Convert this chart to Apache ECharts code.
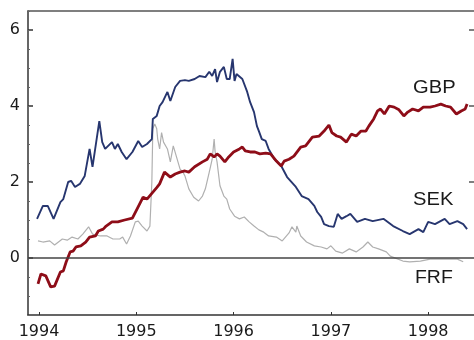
<!DOCTYPE html>
<html>
<head>
<meta charset="utf-8">
<style>
  html, body { margin: 0; padding: 0; background: #fff; }
  #chart { width: 474px; height: 340px; }
</style>
<script src="https://cdn.jsdelivr.net/npm/echarts@6/dist/echarts.min.js"></script>
</head>
<body>
<div id="chart"></div>
<script>
// Year ticks along the bottom and value ticks on the left
const yearTicks = [1994, 1995, 1996, 1997, 1998];
const valueTicks = [0, 2, 4, 6];
const rightTicks = [2, 4, 6];

// SEK
const sekYears = [1993.98, 1994.04, 1994.09, 1994.15, 1994.22, 1994.25, 1994.30, 1994.33, 1994.37, 1994.42,
  1994.47, 1994.52, 1994.55, 1994.62, 1994.65, 1994.68, 1994.75, 1994.78, 1994.81, 1994.85,
  1994.90, 1994.96, 1995.02, 1995.06, 1995.11, 1995.16, 1995.17, 1995.21, 1995.24, 1995.27,
  1995.32, 1995.35, 1995.40, 1995.45, 1995.50, 1995.54, 1995.60, 1995.65, 1995.71, 1995.75,
  1995.78, 1995.81, 1995.83, 1995.86, 1995.90, 1995.93, 1995.96, 1995.99, 1996.01, 1996.03,
  1996.09, 1996.14, 1996.17, 1996.21, 1996.24, 1996.26, 1996.29, 1996.33, 1996.36, 1996.42,
  1996.49, 1996.55, 1996.64, 1996.70, 1996.77, 1996.83, 1996.86, 1996.90, 1996.93, 1996.98,
  1997.03, 1997.07, 1997.11, 1997.16, 1997.20, 1997.27, 1997.35, 1997.43, 1997.54, 1997.64,
  1997.74, 1997.81, 1997.90, 1997.95, 1998.00, 1998.07, 1998.17, 1998.22, 1998.30, 1998.36,
  1998.40];
const sekValues = [1.03, 1.37, 1.37, 1.03, 1.47, 1.55, 2.00, 2.03, 1.87, 1.95,
  2.16, 2.87, 2.40, 3.60, 3.05, 2.87, 3.05, 2.87, 3.00, 2.79,
  2.60, 2.79, 3.08, 2.92, 3.00, 3.13, 3.66, 3.74, 4.00, 4.10,
  4.37, 4.13, 4.50, 4.66, 4.68, 4.66, 4.71, 4.79, 4.76, 4.90,
  4.79, 4.97, 4.63, 4.90, 5.03, 4.71, 4.71, 5.24, 4.66, 4.84,
  4.71, 4.37, 4.10, 3.84, 3.47, 3.34, 3.13, 3.08, 2.87, 2.60,
  2.42, 2.13, 1.87, 1.63, 1.55, 1.37, 1.21, 1.08, 0.89, 0.84,
  0.82, 1.16, 1.03, 1.10, 1.16, 0.95, 1.03, 0.97, 1.03, 0.84,
  0.71, 0.63, 0.76, 0.68, 0.95, 0.89, 1.03, 0.89, 0.97, 0.89,
  0.76];

// GBP
const gbpYears = [1993.99, 1994.02, 1994.07, 1994.12, 1994.16, 1994.22, 1994.25, 1994.28, 1994.32, 1994.35,
  1994.38, 1994.43, 1994.48, 1994.52, 1994.58, 1994.61, 1994.66, 1994.69, 1994.75, 1994.81,
  1994.88, 1994.96, 1995.01, 1995.07, 1995.11, 1995.16, 1995.21, 1995.24, 1995.29, 1995.35,
  1995.40, 1995.45, 1995.50, 1995.54, 1995.60, 1995.68, 1995.73, 1995.76, 1995.80, 1995.83,
  1995.86, 1995.91, 1995.95, 1996.00, 1996.06, 1996.09, 1996.12, 1996.17, 1996.22, 1996.27,
  1996.33, 1996.38, 1996.44, 1996.49, 1996.52, 1996.57, 1996.62, 1996.69, 1996.74, 1996.81,
  1996.88, 1996.93, 1996.98, 1997.01, 1997.06, 1997.10, 1997.16, 1997.21, 1997.26, 1997.31,
  1997.36, 1997.39, 1997.44, 1997.48, 1997.51, 1997.55, 1997.60, 1997.65, 1997.70, 1997.75,
  1997.79, 1997.84, 1997.90, 1997.95, 1998.02, 1998.07, 1998.13, 1998.18, 1998.23, 1998.29,
  1998.34, 1998.38, 1998.40];
const gbpValues = [-0.68, -0.42, -0.47, -0.76, -0.74, -0.37, -0.34, -0.10, 0.16, 0.18,
  0.29, 0.32, 0.42, 0.55, 0.58, 0.71, 0.76, 0.84, 0.95, 0.95,
  1.00, 1.05, 1.30, 1.60, 1.55, 1.70, 1.85, 1.95, 2.26, 2.13,
  2.21, 2.26, 2.29, 2.26, 2.40, 2.53, 2.60, 2.74, 2.66, 2.74,
  2.68, 2.53, 2.66, 2.79, 2.87, 2.92, 2.82, 2.79, 2.79, 2.74,
  2.76, 2.74, 2.55, 2.42, 2.55, 2.60, 2.68, 2.92, 2.95, 3.18,
  3.21, 3.34, 3.50, 3.30, 3.21, 3.18, 3.05, 3.26, 3.21, 3.34,
  3.34, 3.47, 3.66, 3.87, 3.92, 3.79, 4.00, 3.97, 3.90, 3.74,
  3.84, 3.92, 3.87, 3.97, 3.97, 4.00, 4.05, 4.00, 3.97, 3.79,
  3.87, 3.92, 4.05];

// FRF
const frfYears = [1993.99, 1994.04, 1994.11, 1994.16, 1994.24, 1994.29, 1994.34, 1994.40, 1994.45, 1994.51,
  1994.55, 1994.63, 1994.70, 1994.76, 1994.83, 1994.86, 1994.90, 1994.94, 1994.99, 1995.02,
  1995.06, 1995.11, 1995.14, 1995.16, 1995.17, 1995.19, 1995.21, 1995.22, 1995.24, 1995.26,
  1995.28, 1995.32, 1995.35, 1995.38, 1995.42, 1995.45, 1995.48, 1995.50, 1995.54, 1995.59,
  1995.64, 1995.68, 1995.71, 1995.75, 1995.78, 1995.80, 1995.81, 1995.83, 1995.86, 1995.90,
  1995.93, 1995.96, 1996.01, 1996.06, 1996.11, 1996.16, 1996.21, 1996.26, 1996.31, 1996.36,
  1996.44, 1996.50, 1996.57, 1996.60, 1996.64, 1996.65, 1996.69, 1996.75, 1996.83, 1996.90,
  1996.96, 1997.00, 1997.05, 1997.12, 1997.19, 1997.26, 1997.33, 1997.38, 1997.43, 1997.49,
  1997.57, 1997.61, 1997.74, 1997.81, 1997.92, 1998.02, 1998.15, 1998.30, 1998.36];
const frfValues = [0.45, 0.42, 0.45, 0.34, 0.50, 0.47, 0.55, 0.50, 0.63, 0.82,
  0.63, 0.58, 0.58, 0.50, 0.50, 0.55, 0.37, 0.58, 0.95, 0.97,
  0.84, 0.71, 0.84, 2.00, 3.40, 3.53, 3.40, 3.13, 2.87, 3.30,
  3.05, 2.87, 2.53, 2.95, 2.60, 2.34, 2.26, 2.16, 1.82, 1.60,
  1.50, 1.63, 1.82, 2.26, 2.60, 3.13, 2.80, 2.53, 1.90, 1.63,
  1.55, 1.29, 1.10, 1.03, 1.08, 0.95, 0.84, 0.74, 0.68, 0.58,
  0.55, 0.45, 0.66, 0.82, 0.68, 0.84, 0.58, 0.42, 0.32, 0.29,
  0.24, 0.32, 0.18, 0.13, 0.24, 0.16, 0.29, 0.42, 0.29, 0.24,
  0.16, 0.05, -0.08, -0.10, -0.08, -0.03, -0.03, -0.03, -0.10];

const pair = (xs, ys) => xs.map((x, i) => [x, ys[i]]);

const TICK_FONT = '"DejaVu Sans", sans-serif';
const NAME_FONT = '"Liberation Sans", Arial, sans-serif';
const AXIS = '#333';

const chart = echarts.init(document.getElementById('chart'), null, { renderer: 'canvas' });

chart.setOption({
  animation: false,
  backgroundColor: '#fff',
  grid: { left: 28, right: 0, top: 11, bottom: 25, containLabel: false },
  xAxis: [
    {
      type: 'value', min: 1993.887, max: 1998.471, position: 'bottom',
      axisLine: { show: true, onZero: false, lineStyle: { color: AXIS, width: 1.5 } },
      axisTick: { show: true, inside: true, length: 3, customValues: yearTicks, lineStyle: { color: AXIS } },
      axisLabel: { show: true, customValues: yearTicks, margin: 9, color: '#1a1a1a', fontSize: 16, fontFamily: TICK_FONT,
        formatter: v => String(Math.round(v)) },
      splitLine: { show: false }
    },
    {
      type: 'value', min: 1993.887, max: 1998.471, position: 'top',
      axisLine: { show: true, onZero: false, lineStyle: { color: '#555', width: 1.5 } },
      axisTick: { show: false }, axisLabel: { show: false }, splitLine: { show: false }
    }
  ],
  yAxis: [
    {
      type: 'value', min: -1.5, max: 6.5, position: 'left',
      axisLine: { show: true, onZero: false, lineStyle: { color: AXIS, width: 1.5 } },
      axisTick: { show: true, inside: true, length: 5, customValues: valueTicks, lineStyle: { color: AXIS, width: 1.5 } },
      axisLabel: { show: true, customValues: valueTicks, margin: 8, color: '#1a1a1a', fontSize: 16, fontFamily: TICK_FONT },
      splitLine: { show: false }
    },
    {
      // half-unit minor ticks on the left edge
      type: 'value', min: -1.5, max: 6.5, interval: 0.5, position: 'left',
      axisLine: { show: false, onZero: false },
      axisTick: { show: true, inside: true, length: 2, lineStyle: { color: '#666' } },
      axisLabel: { show: false }, splitLine: { show: false }
    },
    {
      type: 'value', min: -1.5, max: 6.5, position: 'right',
      axisLine: { show: false, onZero: false },
      axisTick: { show: true, inside: true, length: 5, customValues: rightTicks, lineStyle: { color: '#555', width: 1.5 } },
      axisLabel: { show: false }, splitLine: { show: false }
    }
  ],
  series: [
    {
      name: 'FRF', type: 'line', data: pair(frfYears, frfValues),
      showSymbol: false, symbol: 'none',
      lineStyle: { color: '#b0b0b0', width: 1.2 },
      z: 2
    },
    {
      name: 'SEK', type: 'line', data: pair(sekYears, sekValues),
      showSymbol: false, symbol: 'none',
      lineStyle: { color: '#27366f', width: 1.9 },
      z: 3,
      markLine: {
        silent: true, symbol: 'none', label: { show: false },
        lineStyle: { color: '#444', width: 1.5, type: 'solid' },
        data: [{ yAxis: 0 }]
      }
    },
    {
      name: 'GBP', type: 'line', data: pair(gbpYears, gbpValues),
      showSymbol: false, symbol: 'none',
      lineStyle: { color: '#8e0d18', width: 2.8 },
      z: 4
    }
  ],
  graphic: [
    { type: 'text', x: 413, y: 79, scaleX: 1.12, style: { text: 'GBP', fill: '#1a1a1a', font: '18px ' + NAME_FONT } },
    { type: 'text', x: 413, y: 191, scaleX: 1.12, style: { text: 'SEK', fill: '#1a1a1a', font: '18px ' + NAME_FONT } },
    { type: 'text', x: 415, y: 269, scaleX: 1.08, style: { text: 'FRF', fill: '#1a1a1a', font: '18px ' + NAME_FONT } }
  ]
});
</script>
</body>
</html>
